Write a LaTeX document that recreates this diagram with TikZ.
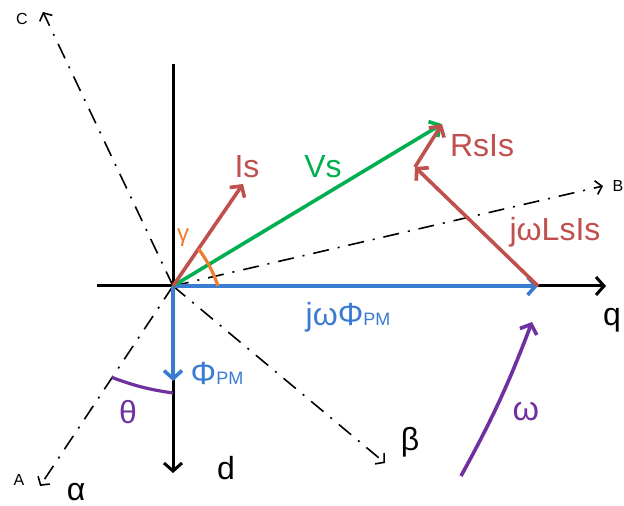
\documentclass[tikz,border=0pt]{standalone}
\usepackage{fontspec}
\setmainfont{Liberation Sans}
\usetikzlibrary{arrows.meta, calc}
\definecolor{doDo}{RGB}{192,80,77}
\definecolor{xanhLa}{RGB}{0,176,80}
\definecolor{xanhDuong}{RGB}{58,124,210}
\definecolor{cam}{RGB}{237,125,49}
\definecolor{tim}{RGB}{112,48,160}
\newcommand{\chiPM}{{\fontsize{9}{9}\selectfont PM}}
\begin{document}
\begin{tikzpicture}[x=0.5pt, y=-0.5pt, font=\fontsize{16}{18}\selectfont,
		>={Straight Barb[length=4pt,width=9pt]},
		truc/.style={line width=1.5pt, ->},
		vecto/.style={line width=1.8pt, ->},
		chamgach/.style={line width=0.8pt, dash pattern=on 8pt off 4.5pt on 1pt off 4.5pt,
			-{Straight Barb[length=3pt,width=7pt]}},
		nhan/.style={font=\fontsize{8}{9}\selectfont}]
		\useasboundingbox (0,0) rectangle (624,506);
		% --- 1. Toa do cac diem ---
		\coordinate (O) at (173,286);
		\coordinate (Dtop) at (173,64);
		\coordinate (Dend) at (173,473); % truc d
		\coordinate (Qstart) at (97,286);
		\coordinate (Qend) at (606,286); % truc q
		
		% Cac truc a, b, c va alpha, beta
		\coordinate (A) at (40,486);
		\coordinate (B) at (603,186);
		\coordinate (C) at (43,12);
		\coordinate (Be) at (385,463);
		
		% Dinh cac vecto
		\coordinate (Is) at (243,184);
		\coordinate (Vs) at (442,124);
		\coordinate (Pm) at (538,286);
		\coordinate (Ls) at (415,167);
		\coordinate (Phi) at (173,381);
		\coordinate (W1) at (461,476);
		\coordinate (W2) at (532,322);
		
		% Diem dau cuoi cua cac goc
		\coordinate (G1) at ($(O)+(0:45)$);
		\coordinate (G2) at ($(O)+(-55.3:45)$);
		\coordinate (T1) at ($(O)+(90:107)$);
		\coordinate (T2) at ($(O)+(123.8:110)$);
		
		% --- 2. He truc d-q ---
		\draw[truc] (Dtop) -- (Dend);
		\draw[truc] (Qstart) -- (Qend);
		
		% --- 3. Cac duong cham gach ---
		\draw[chamgach] (O) -- (A);
		\draw[chamgach] (O) -- (B);
		\draw[chamgach] (O) -- (C);
		\draw[chamgach] (O) -- (Be);
		
		% --- 4. Cac vecto ---
		\draw[vecto, xanhDuong] (O) -- (Pm);
		\draw[vecto, xanhDuong] (O) -- (Phi);
		\draw[vecto, xanhLa] (O) -- (Vs);
		\draw[vecto, doDo] (O) -- (Is);
		\draw[vecto, doDo] (Pm) -- (Ls);
		\draw[vecto, doDo] (Ls) -- (Vs);
		\draw[vecto, tim] (W1) to[bend right=4] (W2);
		
		% --- 5. Cac goc ---
		\draw[line width=1.6pt, cam] (G1) to[bend right=8] (G2);
		\draw[line width=1.6pt, tim] (T1) to[bend left=6] (T2);
		
		% --- 6. Nhan ---
		\node[nhan] (lC) at (22,19) {C};
		\node[nhan] (lB) at (618,186) {B};
		\node[nhan] (lA) at (19,480) {A};
		\node (lAlpha) at (76,492) {α};
		\node (lBeta) at (410,442) {β};
		\node (lD) at (226,468) {d};
		\node (lQ) at (612,320) {q};
		\node[tim] (lTheta) at (128,412) {θ};
		\node[tim, font=\fontsize{17}{18}\selectfont] (lOmega) at (526,412) {ω};
		\node[cam, font=\fontsize{12}{14}\selectfont] (lGamma) at (183,238) {γ};
		\node[xanhDuong] (lPhi) at (217,373) {Φ\chiPM};
		\node[xanhDuong] (lPm) at (348,317) {jωΦ\chiPM};
		\node[doDo] (lIs) at (247,167) {Is};
		\node[xanhLa] (lVs) at (323,167) {Vs};
		\node[doDo] (lRs) at (482,146) {RsIs};
		\node[doDo] (lLs) at (555,232) {jωLsIs};
	\end{tikzpicture}
\end{document}
